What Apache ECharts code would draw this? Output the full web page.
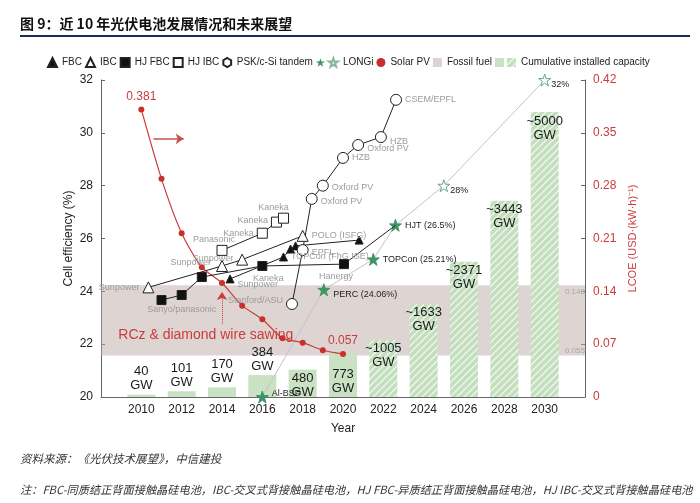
<!DOCTYPE html>
<html>
<head>
<meta charset="utf-8">
<style>
  html, body { margin: 0; padding: 0; background: #fff; }
  #chart { width: 700px; height: 503px; }
</style>
<script src="https://cdn.jsdelivr.net/npm/echarts@6/dist/echarts.min.js"></script>
</head>
<body>
<div id="chart"></div>
<script>
// cumulative installed capacity (GW)
const capYears = [2010, 2012, 2014, 2016, 2018, 2020, 2022, 2024, 2026, 2028, 2030]
const capValues = [40, 101, 170, 384, 480, 773, 1005, 1633, 2371, 3443, 5000]
const capLabels = ['40', '101', '170', '384', '480', '773', '~1005', '~1633', '~2371', '~3443', '~5000']
const capForecastFrom = 2022

// solar PV LCOE, USD/(kW·h)
const lcoeYears = [2010, 2011, 2012, 2013, 2014, 2015, 2016, 2017, 2018, 2019, 2020]
const lcoeValues = [0.381, 0.289, 0.217, 0.172, 0.151, 0.121, 0.103, 0.078, 0.072, 0.062, 0.057]
const fossilRange = [0.055, 0.148]

// cell efficiency records (%)
const fbcYears = [2014.4, 2017.05, 2017.4, 2017.65, 2020.8]
const fbcValues = [24.47, 25.3, 25.6, 25.72, 25.94]
const fbcNames = ['Sunpower', 'TOPCon (FhG ISE)', '', '', '']

const ibcYears = [2010.35, 2014, 2015, 2018]
const ibcValues = [24.15, 24.96, 25.2, 26.1]
const ibcNames = ['Sunpower', 'Sunpower', 'Sunpower', 'POLO (ISFG)']

const hjfbcYears = [2011, 2012, 2013, 2016, 2020.05, 2022.6]
const hjfbcValues = [23.67, 23.86, 24.54, 24.96, 25.03, 26.5]
const hjfbcNames = ['', 'Sanyo/panasonic', '', 'Kaneka', 'Hanergy', '']

const hjibcYears = [2014, 2016, 2016.7, 2017.05]
const hjibcValues = [25.55, 26.2, 26.62, 26.77]
const hjibcNames = ['Panasonic', 'Kaneka', 'Kaneka', 'Kaneka']

const tandemYears = [2017.47, 2018, 2018.45, 2019, 2020, 2020.75, 2021.88, 2022.63]
const tandemValues = [23.52, 25.56, 27.5, 28.0, 29.05, 29.54, 29.84, 31.25]
const tandemNames = ['Stanford/ASU', 'EPFL', 'Oxford PV', 'Oxford PV', 'HZB', 'Oxford PV', 'HZB', 'CSEM/EPFL']

const longiYears = [2016, 2019.05, 2021.5, 2022.6, 2025, 2030]
const longiValues = [20.0, 24.06, 25.21, 26.5, 28, 32]
const longiNames = ['Al-BSF', 'PERC (24.06%)', 'TOPCon (25.21%)', 'HJT (26.5%)', '28%', '32%']
const longiAchieved = [true, true, true, true, false, false]

const star = 'path://M50,0L61.8,35.5L99,35.5L68.8,57.4L80.3,92.9L50,71L19.7,92.9L31.2,57.4L1,35.5L38.2,35.5Z'
const hexagon = 'path://M50,0L93.3,25L93.3,75L50,100L6.7,75L6.7,25Z'
const red = '#cc3b3b'
const green = '#c9e2c4'
const grey = '#9c9c9c'

// hatched fill for forecast bars
const hatch = (() => {
  const c = document.createElement('canvas')
  c.width = 7
  c.height = 7
  const ctx = c.getContext('2d')
  ctx.fillStyle = '#c4dfbe'
  ctx.fillRect(0, 0, 7, 7)
  ctx.strokeStyle = 'rgba(255,255,255,0.9)'
  ctx.lineWidth = 1.1
  ctx.beginPath()
  ctx.moveTo(-1, 8); ctx.lineTo(8, -1)
  ctx.moveTo(-1, 1); ctx.lineTo(1, -1)
  ctx.moveTo(6, 8); ctx.lineTo(8, 6)
  ctx.stroke()
  return { image: c, repeat: 'repeat' }
})()

const labelPos = {
  fbc: [['right', [0, 6]], ['right', [0, 0]]],
  ibc: [['left', [0, 0]], ['left', [-2, -3]], ['left', [0, -1]], ['right', [0, 0]]],
  hjfbc: [null, ['bottom', [0, 2]], null, ['bottom', [6, 0]], ['bottom', [-8, 0]]],
  hjibc: [['top', [-8, 2]], ['left', [0, 0]], ['left', [0, -2]], ['top', [-10, 2]]],
  tandem: [['left', [0, -3]], ['right', [0, 2]], ['right', [0, 3]], ['right', [0, 2]], ['right', [0, 0]], ['right', [0, 4]], ['right', [0, 4]], ['right', [0, 0]]],
  longi: [['right', [0, -3]], ['right', [0, 5]], ['right', [0, 0]], ['right', [0, 0]], ['right', [-3, 5]], ['right', [-3, 5]]]
}

function points (xs, ys, names, pos, color) {
  return xs.map((x, i) => {
    const p = pos[i]
    return {
      value: [x, ys[i]],
      label: names[i]
        ? { show: true, formatter: names[i], position: p[0], offset: p[1], color: color, fontSize: 9, distance: 3 }
        : { show: false }
    }
  })
}

function recordSeries (name, symbol, filled, size, data) {
  return {
    name: name,
    type: 'line',
    yAxisIndex: 0,
    data: data,
    symbol: symbol,
    symbolSize: size,
    z: 5,
    lineStyle: { color: '#222', width: 1 },
    itemStyle: { color: filled ? '#111' : '#fff', borderColor: '#222', borderWidth: 1 },
    emphasis: { disabled: true }
  }
}

const hjfbcData = points(hjfbcYears, hjfbcValues, hjfbcNames, labelPos.hjfbc, grey)
hjfbcData[hjfbcData.length - 1].symbol = 'none'

const longiData = points(longiYears, longiValues, longiNames, labelPos.longi, '#222').map((d, i) => {
  d.itemStyle = longiAchieved[i]
    ? { color: '#3f9466', borderColor: '#3f9466' }
    : { color: '#fff', borderColor: '#6aa585', borderWidth: 1 }
  return d
})

const lcoeData = lcoeYears.map((y, i) => ({
  value: [y, lcoeValues[i]],
  label: { show: i === 0 || i === lcoeYears.length - 1 }
}))

const capData = capYears.map((y, i) => ({
  value: [y, capValues[i]],
  itemStyle: { color: y >= capForecastFrom ? hatch : green },
  label: {
    position: y >= 2018 ? 'insideTop' : 'top',
    distance: y === 2020 ? 14 : 2
  }
}))

const sawingYear = 2014
const sawingTop = lcoeValues[lcoeYears.indexOf(sawingYear)] - 0.012

const option = {
  animation: false,
  textStyle: { fontFamily: 'Arial, "Liberation Sans", sans-serif' },
  title: [
    {
      text: '图 9：近 10 年光伏电池发展情况和未来展望',
      left: 15,
      top: 12,
      textStyle: { fontSize: 14, fontWeight: 'bold', color: '#111', fontFamily: '"Noto Sans CJK SC", sans-serif' }
    },
    {
      text: '资料来源：《光伏技术展望》，中信建投',
      left: 15,
      top: 448,
      textStyle: { fontSize: 11.5, fontWeight: 'normal', fontStyle: 'italic', color: '#333', fontFamily: '"Noto Sans CJK SC", sans-serif' }
    },
    {
      text: '注：FBC-同质结正背面接触晶硅电池，IBC-交叉式背接触晶硅电池，HJ FBC-异质结正背面接触晶硅电池，HJ IBC-交叉式背接触晶硅电池',
      left: 15,
      top: 479,
      textStyle: { fontSize: 11.2, fontWeight: 'normal', fontStyle: 'italic', color: '#333', fontFamily: '"Noto Sans CJK SC", sans-serif' }
    }
  ],
  graphic: [
    { type: 'rect', left: 20, top: 35, shape: { width: 670, height: 2 }, style: { fill: '#1d2b5c' } }
  ],
  legend: {
    top: 52,
    left: 42,
    width: 660,
    itemWidth: 9,
    itemHeight: 9,
    itemGap: 3,
    textStyle: { fontSize: 10, color: '#222' },
    formatter: name => name.startsWith('_') ? '' : name,
    data: [
      { name: 'FBC', icon: 'triangle' },
      { name: 'IBC', icon: 'triangle' },
      { name: 'HJ FBC', icon: 'rect' },
      { name: 'HJ IBC', icon: 'rect' },
      { name: 'PSK/c-Si tandem', icon: hexagon },
      { name: '_longi', icon: star },
      { name: 'LONGi', icon: star },
      { name: 'Solar PV', icon: 'circle' },
      { name: 'Fossil fuel', icon: 'rect' },
      { name: '_cap', icon: 'rect' },
      { name: 'Cumulative installed capacity', icon: 'rect' }
    ]
  },
  grid: { left: 101, right: 115, top: 80, bottom: 106 },
  xAxis: {
    type: 'value',
    min: 2008,
    max: 2032,
    interval: 2,
    name: 'Year',
    nameLocation: 'middle',
    nameGap: 26,
    nameTextStyle: { fontSize: 12, color: '#222' },
    axisLine: { lineStyle: { color: '#666' } },
    axisTick: { show: false },
    splitLine: { show: false },
    axisLabel: {
      fontSize: 12,
      color: '#222',
      margin: 7,
      formatter: v => (v >= 2010 && v <= 2030) ? String(v) : ''
    }
  },
  yAxis: [
    {
      type: 'value',
      min: 20,
      max: 32,
      interval: 2,
      name: 'Cell efficiency (%)',
      nameLocation: 'middle',
      nameGap: 26,
      nameMoveOverlap: false,
      nameRotate: 90,
      nameTextStyle: { fontSize: 12, color: '#222' },
      axisLine: { show: true, lineStyle: { color: '#666' } },
      axisTick: { show: true, inside: true, length: 4 },
      splitLine: { show: false },
      axisLabel: { fontSize: 12, color: '#222', margin: 8 }
    },
    {
      type: 'value',
      position: 'right',
      min: 0,
      max: 0.42,
      interval: 0.07,
      name: 'LCOE (USD·(kW·h)⁻¹)',
      nameLocation: 'middle',
      nameGap: 40,
      nameRotate: 90,
      nameTextStyle: { fontSize: 11, color: red },
      axisLine: { show: true, lineStyle: { color: '#666' } },
      axisTick: { show: true, inside: true, length: 4 },
      splitLine: { show: false },
      axisLabel: { fontSize: 12, color: red, margin: 8, formatter: v => v === 0 ? '0' : v.toFixed(2) }
    },
    {
      type: 'value',
      min: 0,
      max: 5560,
      show: false,
      splitLine: { show: false }
    }
  ],
  series: [
    {
      name: 'Cumulative installed capacity',
      type: 'bar',
      yAxisIndex: 2,
      barWidth: 28,
      z: 1,
      itemStyle: { color: hatch },
      label: {
        show: true,
        formatter: p => capLabels[p.dataIndex] + '\nGW',
        fontSize: 13,
        lineHeight: 14,
        color: '#1a1a1a'
      },
      emphasis: { disabled: true },
      data: capData
    },
    { name: '_cap', type: 'line', data: [], itemStyle: { color: green } },
    {
      name: 'Fossil fuel',
      type: 'line',
      yAxisIndex: 1,
      data: [],
      z: 2,
      itemStyle: { color: '#ddd3d1' },
      markArea: {
        silent: true,
        itemStyle: { color: 'rgba(186,168,164,0.48)' },
        data: [[{ xAxis: 2008, yAxis: fossilRange[0] }, { xAxis: 2032, yAxis: fossilRange[1] }]]
      },
      markPoint: {
        silent: true,
        symbol: 'circle',
        symbolSize: 0,
        label: { show: true, position: 'inside', fontSize: 8, color: '#a8a8a8', formatter: p => p.value.toFixed(3) },
        data: [
          { coord: [2031.5, fossilRange[1] - 0.008], value: fossilRange[1] },
          { coord: [2031.5, fossilRange[0] + 0.006], value: fossilRange[0] }
        ]
      }
    },
    {
      name: 'Solar PV',
      type: 'line',
      yAxisIndex: 1,
      smooth: 0.25,
      symbol: 'circle',
      symbolSize: 6,
      z: 4,
      lineStyle: { color: red, width: 1.2 },
      itemStyle: { color: '#c9302c' },
      label: { position: 'top', distance: 4, fontSize: 12, color: red, formatter: p => p.value[1].toFixed(3) },
      emphasis: { disabled: true },
      data: lcoeData,
      markLine: {
        silent: true,
        symbol: ['none', 'arrow'],
        symbolSize: [8, 8],
        label: { show: false },
        data: [
          [{ coord: [2010.6, 0.342], lineStyle: { color: '#c35252', width: 1.5, type: 'solid' } }, { coord: [2012.1, 0.342] }],
          [{ coord: [sawingYear, 0.097], lineStyle: { color: red, width: 1, type: 'dotted' } }, { coord: [sawingYear, sawingTop] }]
        ]
      },
      markPoint: {
        silent: true,
        symbol: 'circle',
        symbolSize: 0,
        label: { show: true, position: 'inside', fontSize: 14, color: red, formatter: 'RCz & diamond wire sawing' },
        data: [{ coord: [2013.2, 0.082] }]
      }
    },
    recordSeries('FBC', 'triangle', true, 8, points(fbcYears, fbcValues, fbcNames, labelPos.fbc, grey)),
    recordSeries('IBC', 'triangle', false, 11, points(ibcYears, ibcValues, ibcNames, labelPos.ibc, grey)),
    recordSeries('HJ FBC', 'rect', true, 9, hjfbcData),
    recordSeries('HJ IBC', 'rect', false, 10, points(hjibcYears, hjibcValues, hjibcNames, labelPos.hjibc, grey)),
    recordSeries('PSK/c-Si tandem', 'circle', false, 11, points(tandemYears, tandemValues, tandemNames, labelPos.tandem, grey)),
    {
      name: '_longi',
      type: 'line',
      yAxisIndex: 0,
      symbol: star,
      symbolSize: 12,
      z: 3,
      lineStyle: { color: '#c4c4c4', width: 1 },
      itemStyle: { color: '#3f9466' },
      emphasis: { disabled: true },
      data: longiData
    },
    {
      name: 'LONGi',
      type: 'scatter',
      data: [],
      symbol: star,
      itemStyle: { color: '#fff', borderColor: '#6aa585', borderWidth: 1 }
    }
  ]
}

const chart = echarts.init(document.getElementById('chart'))
chart.setOption(option)
</script>
</body>
</html>
